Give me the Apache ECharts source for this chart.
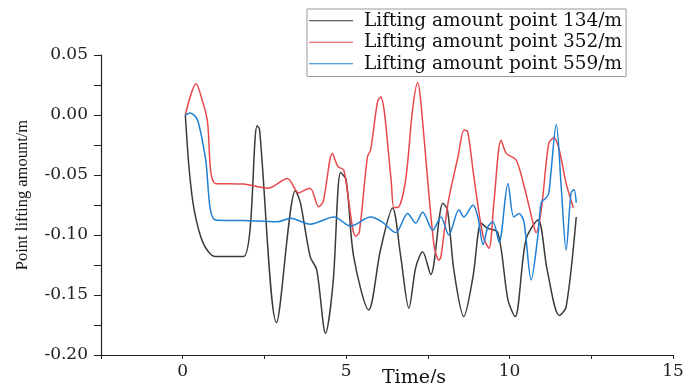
<!DOCTYPE html>
<html>
<head>
<meta charset="utf-8">
<script src="https://cdn.jsdelivr.net/npm/echarts@6/dist/echarts.min.js"></script>
<style>
  html, body { margin: 0; padding: 0; background: #fff; }
  #chart { width: 684px; height: 383px; }
</style>
</head>
<body>
<div id="chart"></div>
<script>
// series names
var seriesNames = ['Lifting amount point 134/m', 'Lifting amount point 352/m', 'Lifting amount point 559/m'];

// point 134
var time134 = [0.08, 0.2, 0.35, 0.63, 1.0, 1.86, 2.28, 2.35, 2.87, 3.45, 3.6, 3.9, 4.1, 4.37, 4.6, 4.83, 5.0, 5.23, 5.69, 6.05, 6.42, 6.67, 6.92, 7.13, 7.34, 7.59, 7.96, 8.1, 8.3, 8.6, 8.88, 9.13, 9.3, 9.64, 9.95, 10.17, 10.5, 10.87, 11.15, 11.52, 11.73, 12.04];
var lift134 = [0, -0.046, -0.079, -0.107, -0.118, -0.118, -0.009, -0.012, -0.173, -0.063, -0.073, -0.118, -0.129, -0.182, -0.14, -0.048, -0.054, -0.118, -0.1625, -0.1125, -0.0775, -0.118, -0.161, -0.127, -0.114, -0.133, -0.0735, -0.079, -0.13, -0.168, -0.135, -0.09, -0.094, -0.098, -0.154, -0.168, -0.104, -0.0875, -0.129, -0.167, -0.16, -0.085];

// point 352
var time352 = [0.08, 0.41, 0.6, 0.75, 1.0, 1.86, 2.6, 3.2, 3.55, 3.7, 3.9, 4.16, 4.3, 4.58, 4.75, 4.93, 5.29, 5.4, 5.65, 5.75, 5.96, 6.06, 6.37, 6.46, 6.58, 6.82, 7.03, 7.19, 7.28, 7.68, 7.84, 7.9, 8.12, 8.42, 8.61, 8.72, 8.91, 9.19, 9.37, 9.52, 9.74, 9.9, 10.2, 10.45, 10.72, 10.81, 10.97, 11.2, 11.36, 11.52, 11.73, 11.95];
var lift352 = [0, 0.026, 0.012, -0.004, -0.057, -0.0575, -0.061, -0.053, -0.065, -0.063, -0.061, -0.0765, -0.072, -0.032, -0.043, -0.046, -0.101, -0.098, -0.035, -0.029, 0.011, 0.015, -0.052, -0.077, -0.077, -0.054, 0.004, 0.027, 0.012, -0.107, -0.121, -0.118, -0.073, -0.035, -0.0125, -0.014, -0.052, -0.101, -0.111, -0.073, -0.021, -0.032, -0.0375, -0.06, -0.09, -0.098, -0.079, -0.0235, -0.019, -0.029, -0.057, -0.077];

// point 559
var time559 = [0.08, 0.23, 0.45, 0.69, 1.0, 1.86, 2.9, 3.3, 3.9, 4.63, 5.14, 5.75, 6.1, 6.52, 6.88, 7.13, 7.34, 7.65, 7.9, 8.14, 8.45, 8.6, 8.88, 9.03, 9.19, 9.34, 9.49, 9.68, 9.95, 10.13, 10.29, 10.44, 10.66, 10.87, 10.97, 11.12, 11.2, 11.43, 11.58, 11.73, 11.88, 11.97, 12.04];
var lift559 = [0, 0.0017, -0.004, -0.035, -0.0875, -0.088, -0.089, -0.086, -0.091, -0.085, -0.0925, -0.085, -0.089, -0.098, -0.082, -0.09, -0.081, -0.096, -0.085, -0.1, -0.079, -0.085, -0.075, -0.085, -0.108, -0.093, -0.089, -0.106, -0.057, -0.085, -0.082, -0.089, -0.1375, -0.1, -0.073, -0.069, -0.065, -0.008, -0.06, -0.1125, -0.065, -0.062, -0.073];

var colors = ['#3a3a3a', '#e8484c', '#1f7fd2'];
var fontFamily = 'DejaVu Serif';

function pairs(ts, vs) {
  var out = [];
  for (var i = 0; i < ts.length; i++) {
    out.push([ts[i], vs[i]]);
  }
  return out;
}

function isMultiple(v, step) {
  var r = v / step;
  return Math.abs(r - Math.round(r)) < 1e-6;
}

var myChart = echarts.init(document.getElementById('chart'));

var allData = [pairs(time134, lift134), pairs(time352, lift352), pairs(time559, lift559)];
var series = [];
for (var i = 0; i < 3; i++) {
  series.push({
    name: seriesNames[i],
    type: 'line',
    data: allData[i],
    symbol: 'none',
    smooth: 0.3,
    lineStyle: {color: colors[i], width: 1.5},
    itemStyle: {color: colors[i]}
  });
}

var option = {
  animation: false,
  backgroundColor: '#fff',
  textStyle: {fontFamily: fontFamily},
  grid: {left: 101, top: 55, right: 11, bottom: 28, outerBoundsMode: 'none'},
  legend: {
    orient: 'vertical',
    left: 307,
    top: 9,
    padding: [1, 4, 2, 2],
    borderColor: '#999',
    borderWidth: 1,
    itemWidth: 44,
    itemHeight: 14,
    itemGap: 0,
    icon: 'path://M0,7 L44,7 L44,8 L0,8 Z',
    textStyle: {fontFamily: fontFamily, fontSize: 18.5, lineHeight: 21.5, color: '#111', padding: [0, 0, 0, 6]},
    data: seriesNames
  },
  xAxis: {
    type: 'value',
    min: -2.5,
    max: 15,
    interval: 2.5,
    name: 'Time/s',
    nameLocation: 'middle',
    nameGap: 14,
    nameMoveOverlap: false,
    nameTextStyle: {fontFamily: fontFamily, fontSize: 19, color: '#111', padding: [0, 0, 0, 54]},
    splitLine: {show: false},
    axisLine: {onZero: false, lineStyle: {color: '#222', width: 1.2}},
    axisTick: {length: 4, lineStyle: {color: '#222'}},
    axisLabel: {
      fontFamily: fontFamily, fontSize: 17, color: '#222', margin: 8,
      formatter: function (v) { return (isMultiple(v, 5) && v >= 0) ? String(v) : ''; }
    }
  },
  yAxis: {
    type: 'value',
    min: -0.2,
    max: 0.05,
    interval: 0.025,
    name: 'Point lifting amount/m',
    nameLocation: 'middle',
    nameRotate: 90,
    nameGap: 70,
    nameMoveOverlap: false,
    nameTextStyle: {fontFamily: 'Liberation Serif', fontSize: 16.5, color: '#111', padding: [0, 0, 0, 20]},
    splitLine: {show: false},
    axisLine: {onZero: false, lineStyle: {color: '#222', width: 1.2}},
    axisTick: {length: 7, lineStyle: {color: '#222'}},
    axisLabel: {
      fontFamily: fontFamily, fontSize: 17, color: '#222', margin: 13,
      formatter: function (v) { return isMultiple(v, 0.05) ? v.toFixed(2) : ''; }
    }
  },
  series: series
};

myChart.setOption(option);
</script>
</body>
</html>
